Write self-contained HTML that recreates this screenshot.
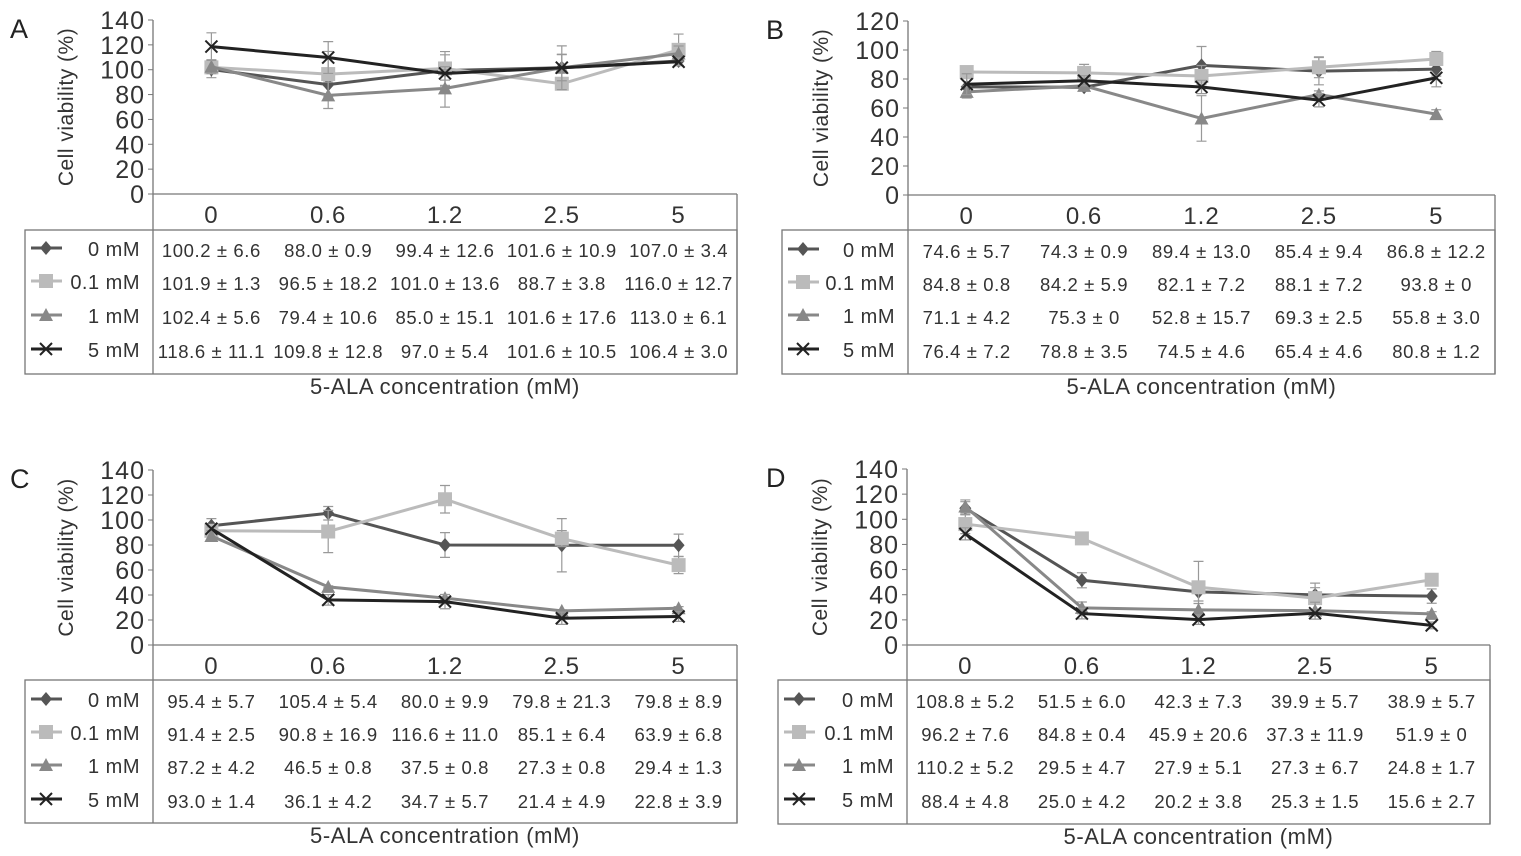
<!DOCTYPE html>
<html><head><meta charset="utf-8"><style>
html,body{margin:0;padding:0;background:#fff;width:1521px;height:856px;overflow:hidden}
svg{display:block;font-family:"Liberation Sans",sans-serif}
</style></head><body>
<svg id="fig" width="1521" height="856" viewBox="0 0 1521 856"></svg>
<script>
const categories=["0","0.6","1.2","2.5","5"];
const seriesNames=["0 mM","0.1 mM","1 mM","5 mM"];
// Panel A
const aMean0=[100.2,88.0,99.4,101.6,107.0], aSd0=[6.6,0.9,12.6,10.9,3.4];
const aMean1=[101.9,96.5,101.0,88.7,116.0], aSd1=[1.3,18.2,13.6,3.8,12.7];
const aMean2=[102.4,79.4,85.0,101.6,113.0], aSd2=[5.6,10.6,15.1,17.6,6.1];
const aMean3=[118.6,109.8,97.0,101.6,106.4], aSd3=[11.1,12.8,5.4,10.5,3.0];
// Panel B
const bMean0=[74.6,74.3,89.4,85.4,86.8], bSd0=[5.7,0.9,13.0,9.4,12.2];
const bMean1=[84.8,84.2,82.1,88.1,93.8], bSd1=[0.8,5.9,7.2,7.2,0];
const bMean2=[71.1,75.3,52.8,69.3,55.8], bSd2=[4.2,0,15.7,2.5,3.0];
const bMean3=[76.4,78.8,74.5,65.4,80.8], bSd3=[7.2,3.5,4.6,4.6,1.2];
// Panel C
const cMean0=[95.4,105.4,80.0,79.8,79.8], cSd0=[5.7,5.4,9.9,21.3,8.9];
const cMean1=[91.4,90.8,116.6,85.1,63.9], cSd1=[2.5,16.9,11.0,6.4,6.8];
const cMean2=[87.2,46.5,37.5,27.3,29.4], cSd2=[4.2,0.8,0.8,0.8,1.3];
const cMean3=[93.0,36.1,34.7,21.4,22.8], cSd3=[1.4,4.2,5.7,4.9,3.9];
// Panel D
const dMean0=[108.8,51.5,42.3,39.9,38.9], dSd0=[5.2,6.0,7.3,5.7,5.7];
const dMean1=[96.2,84.8,45.9,37.3,51.9], dSd1=[7.6,0.4,20.6,11.9,0];
const dMean2=[110.2,29.5,27.9,27.3,24.8], dSd2=[5.2,4.7,5.1,6.7,1.7];
const dMean3=[88.4,25.0,20.2,25.3,15.6], dSd3=[4.8,4.2,3.8,1.5,2.7];
const ticksA=[0,20,40,60,80,100,120,140];
const ticksB=[0,20,40,60,80,100,120];

const NS="http://www.w3.org/2000/svg";
const svg=document.getElementById('fig');
function el(tag,attrs,parent,text){const e=document.createElementNS(NS,tag);for(const k in attrs)e.setAttribute(k,attrs[k]);if(text!==undefined)e.textContent=text;(parent||svg).appendChild(e);return e;}
const colors=["#555","#bbb","#888","#222"];
function marker(g,type,x,y,c){
  let m;
  if(type===0)m=el('polygon',{points:`${x},${y-7} ${x+6},${y} ${x},${y+7} ${x-6},${y}`,fill:c},g);
  else if(type===1)m=el('rect',{x:x-7,y:y-7,width:14,height:14,fill:c},g);
  else if(type===2)m=el('polygon',{points:`${x},${y-7} ${x+7},${y+6} ${x-7},${y+6}`,fill:c},g);
  else {m=el('path',{d:`M${x-6} ${y-6}L${x+6} ${y+6}M${x+6} ${y-6}L${x-6} ${y+6}`,stroke:c,'stroke-width':2,fill:'none'},g);}
  return m;
}
function panel(p){
  const g=el('g',{});
  
  
  const t=el('text',{x:p.lx,y:p.top+18,'font-size':27,fill:'#222'},g,p.letter);
  
  
  const W=p.right-p.ax, step=W/categories.length;
  const xs=i=>p.ax+step*(i+0.5);
  const ys=v=>p.zero-(v/p.max)*(p.zero-p.top);
  p.ticks.forEach(v=>{
    const tl=el('text',{x:p.ax-8,y:ys(v)+9,'font-size':25,'letter-spacing':1,'text-anchor':'end',fill:'#333'},g,String(v));
    
    
    el('line',{x1:p.ax-5,x2:p.ax,y1:ys(v),y2:ys(v),stroke:'#777','stroke-width':1},g);
  });
  const yt=el('text',{x:0,y:0,'font-size':21,'letter-spacing':0.5,'text-anchor':'middle',fill:'#333',transform:`translate(${p.ax-80},${(p.top+p.zero)/2}) rotate(-90)`},g,'Cell viability (%)');
  
  
  el('line',{x1:p.ax,x2:p.ax,y1:p.top,y2:p.tb,stroke:'#777','stroke-width':1.3},g);
  el('line',{x1:p.ax,x2:p.right,y1:p.zero,y2:p.zero,stroke:'#777','stroke-width':1.3},g);
  el('line',{x1:p.right,x2:p.right,y1:p.zero,y2:p.tb,stroke:'#777','stroke-width':1.3},g);
  el('rect',{x:p.tl,y:p.tt,width:p.right-p.tl,height:p.tb-p.tt,fill:'none',stroke:'#777','stroke-width':1.3},g);
  categories.forEach((c,i)=>{
    const ct=el('text',{x:xs(i),y:p.zero+29,'font-size':24,'letter-spacing':1,'text-anchor':'middle',fill:'#333'},g,c);
    
    
  });
  p.data.forEach((s,k)=>{
    const sg=el('g',{},g);
    
    
    s.m.forEach((v,i)=>{
      const x=xs(i),y1=ys(v+s.s[i]),y2=ys(v-s.s[i]);
      el('path',{d:`M${x} ${y1}V${y2}M${x-5} ${y1}H${x+5}M${x-5} ${y2}H${x+5}`,stroke:'#999','stroke-width':1.2,fill:'none'},sg);
    });
    const pts=s.m.map((v,i)=>xs(i)+','+ys(v)).join(' ');
    const ln=el('polyline',{points:pts,fill:'none',stroke:colors[k],'stroke-width':3},sg);
    
    
    s.m.forEach((v,i)=>{
      const mk=marker(sg,k,xs(i),ys(v),colors[k]);
      
      
    });
    const ry=p.rows[k];
    el('line',{x1:p.tl+6,x2:p.tl+37,y1:ry-7,y2:ry-7,stroke:colors[k],'stroke-width':3},g);
    marker(g,k,p.tl+21,ry-7,colors[k]);
    const rl=el('text',{x:p.ax-13,y:ry+1,'font-size':20,'letter-spacing':0.5,'text-anchor':'end',fill:'#333'},g,seriesNames[k]);
    
    
    s.m.forEach((v,i)=>{
      const vt=el('text',{x:xs(i),y:ry+2,'font-size':18.5,'letter-spacing':0.6,'text-anchor':'middle',fill:'#333'},g,v.toFixed(1)+' ± '+(s.s[i]===0?'0':s.s[i].toFixed(1)));
      
      
    });
  });
  const xt=el('text',{x:(p.ax+p.right)/2,y:p.tb+20,'font-size':22,'letter-spacing':0.6,'text-anchor':'middle',fill:'#333'},g,'5-ALA concentration (mM)');
  
  
}
panel({letter:'A',lx:10,ax:153,right:737,top:20,zero:194,max:140,ticks:ticksA,tl:25,tt:230,tb:374,rows:[255,288,322,356],
  data:[{m:aMean0,s:aSd0},{m:aMean1,s:aSd1},{m:aMean2,s:aSd2},{m:aMean3,s:aSd3}]});
panel({letter:'B',lx:766,ax:908,right:1495,top:21,zero:195,max:120,ticks:ticksB,tl:782,tt:230,tb:374,rows:[256,289,322,356],
  data:[{m:bMean0,s:bSd0},{m:bMean1,s:bSd1},{m:bMean2,s:bSd2},{m:bMean3,s:bSd3}]});
panel({letter:'C',lx:10,ax:153,right:737,top:470,zero:645,max:140,ticks:ticksA,tl:25,tt:680,tb:823,rows:[706,739,772,806],
  data:[{m:cMean0,s:cSd0},{m:cMean1,s:cSd1},{m:cMean2,s:cSd2},{m:cMean3,s:cSd3}]});
panel({letter:'D',lx:766,ax:907,right:1490,top:469,zero:645,max:140,ticks:ticksA,tl:778,tt:680,tb:824,rows:[706,739,772,806],
  data:[{m:dMean0,s:dSd0},{m:dMean1,s:dSd1},{m:dMean2,s:dSd2},{m:dMean3,s:dSd3}]});
</script>
</body></html>
